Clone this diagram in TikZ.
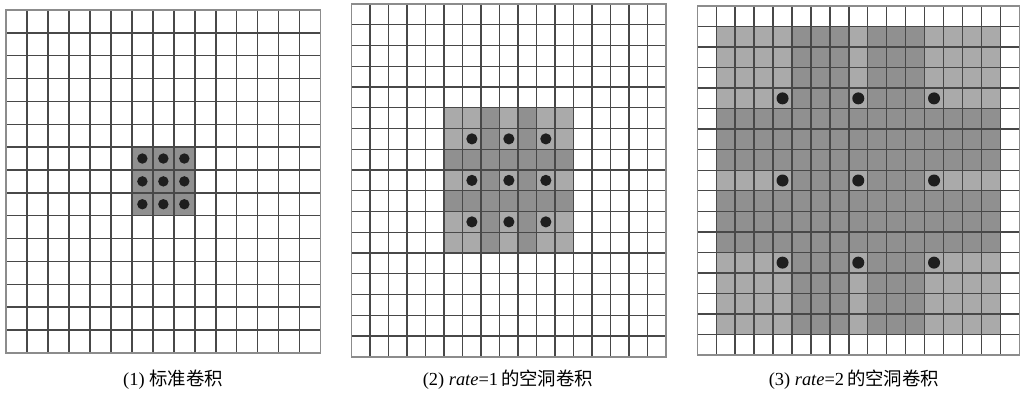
\documentclass[tikz,border=0pt]{standalone}
\usepackage{fontspec}
\setmainfont{Liberation Serif}
\newfontfamily\cjk{Noto Sans CJK SC}
\definecolor{gridc}{HTML}{484848}
\definecolor{borderc}{HTML}{8C8C8C}
\definecolor{lightc}{HTML}{AAAAAA}
\definecolor{darkc}{HTML}{909090}
\definecolor{dotc}{HTML}{1E1E1E}
\tikzset{
  gridl/.style={draw=gridc, line width=1.4pt},
  borderl/.style={draw=borderc, line width=1.5pt},
  kdot/.style={fill=dotc},
  caption/.style={font=\fontsize{18.4}{22}\selectfont, inner sep=0pt}
}
\newcommand\mygridlines[1]{%
  \foreach \k in {1,...,\numexpr#1-1\relax}{
    \draw[gridl] (\k,0) -- (\k,#1);
    \draw[gridl] (0,\k) -- (#1,\k);
  }
  \draw[borderl] (0,0) rectangle (#1,#1);
}
\begin{document}
\begin{tikzpicture}[x=1pt,y=-1pt]
\useasboundingbox (0,0) rectangle (1021,394);
% ---------- grid 1: standard convolution ----------
\begin{scope}[shift={(6,10)}, x=20.98pt, y=-22.85pt]
  \fill[darkc] (6,6) rectangle (9,9);
  \mygridlines{15}
  \foreach \i in {6,7,8}{\foreach \j in {6,7,8}{
    \fill[kdot] (\i+0.5,\j+0.5) circle[radius=5.2pt];
  }}
\end{scope}
% ---------- grid 2: rate=1 dilated convolution ----------
\begin{scope}[shift={(351.7,4)}, x=18.49pt, y=-20.75pt]
  \fill[lightc] (5,5) rectangle (12,12);
  \foreach \s in {7,9}{
    \fill[darkc] (\s,5) rectangle (\s+1,12);
    \fill[darkc] (5,\s) rectangle (12,\s+1);
  }
  \mygridlines{17}
  \foreach \i in {6,8,10}{\foreach \j in {6,8,10}{
    \fill[kdot] (\i+0.5,\j+0.5) circle[radius=5.6pt];
  }}
\end{scope}
% ---------- grid 3: rate=2 dilated convolution ----------
\begin{scope}[shift={(697.3,6)}, x=18.94pt, y=-20.53pt]
  \fill[lightc] (1,1) rectangle (16,16);
  \foreach \s in {5,9}{
    \fill[darkc] (\s,1) rectangle (\s+3,16);
    \fill[darkc] (1,\s) rectangle (16,\s+3);
  }
  \mygridlines{17}
  \foreach \i in {4,8,12}{\foreach \j in {4,8,12}{
    \fill[kdot] (\i+0.5,\j+0.5) circle[radius=6pt];
  }}
\end{scope}
% ---------- captions ----------
\node[caption] (cap1) at (173,380) {(1) {\cjk 标准卷积}};
\node[caption] (cap2) at (508,380) {(2) \textit{rate}=1\,{\cjk 的空洞卷积}};
\node[caption] (cap3) at (854,380) {(3) \textit{rate}=2\,{\cjk 的空洞卷积}};
\end{tikzpicture}
\end{document}
